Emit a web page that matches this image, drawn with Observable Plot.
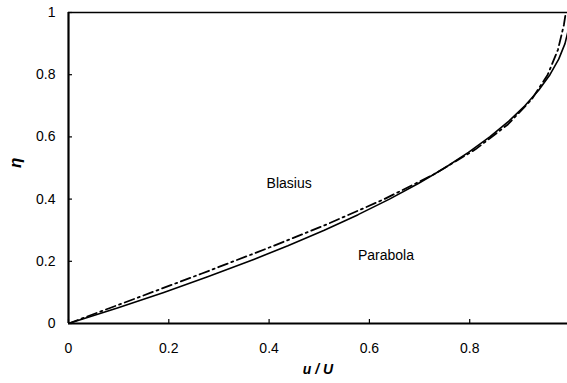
<!DOCTYPE html>
<html>
<head>
<meta charset="utf-8">
<script src="https://cdn.jsdelivr.net/npm/d3@7"></script>
<script src="https://cdn.jsdelivr.net/npm/@observablehq/plot@0.6"></script>
<style>
  html, body { margin: 0; padding: 0; background: #fff; }
  svg { font-family: "Liberation Sans", Arial, sans-serif; }
</style>
</head>
<body>
<div id="chart"></div>
<script>
// Parabolic profile (solid): u/U vs eta
const parabolaU   = [0, 0.0975, 0.19, 0.2775, 0.36, 0.4375, 0.51, 0.5775, 0.64, 0.6975, 0.75, 0.7975, 0.84, 0.8775, 0.91, 0.9375, 0.96, 0.9775, 0.99, 0.9975, 1.0];
const parabolaEta = [0, 0.05, 0.10, 0.15, 0.20, 0.25, 0.30, 0.35, 0.40, 0.45, 0.50, 0.55, 0.60, 0.65, 0.70, 0.75, 0.80, 0.85, 0.90, 0.95, 1.0];

// Blasius profile (dash-dot): u/U vs eta
const blasiusU   = [0, 0.1328, 0.2647, 0.3938, 0.5168, 0.6298, 0.7290, 0.8115, 0.8761, 0.9233, 0.9555, 0.9759, 0.9878, 0.9916];
const blasiusEta = [0, 0.08, 0.16, 0.24, 0.32, 0.40, 0.48, 0.56, 0.64, 0.72, 0.80, 0.88, 0.96, 1.0];

const xTicks = [0, 0.2, 0.4, 0.6, 0.8];
const yTicks = [0, 0.2, 0.4, 0.6, 0.8, 1];
const yTickLabels = ["0", "0.2", "0.4", "0.6", "0.8", "1"];

const curveLabels = ["Blasius", "Parabola"];
const curveLabelX = [0.44, 0.633];
const curveLabelY = [0.45, 0.218];

const parabola = parabolaU.map((u, i) => ({u, eta: parabolaEta[i]}));
const blasius = blasiusU.map((u, i) => ({u, eta: blasiusEta[i]}));
const labels = curveLabels.map((t, i) => ({t, x: curveLabelX[i], y: curveLabelY[i]}));

const chart = Plot.plot({
  width: 567,
  height: 383,
  marginLeft: 68,
  marginRight: 0,
  marginTop: 12,
  marginBottom: 60,
  style: {fontFamily: '"Liberation Sans", Arial, sans-serif', fontSize: "14px", background: "#fff", color: "#000"},
  x: {domain: [0, 0.995], axis: null},
  y: {domain: [0, 1], axis: null},
  marks: [
    // inward tick marks
    Plot.ruleX(xTicks, {x: d => d, y1: 0, y2: 0, insetBottom: 4, stroke: "#000", strokeWidth: 1.2}),
    Plot.ruleY(yTicks, {y: d => d, x1: 0, x2: 0, insetRight: -4, stroke: "#000", strokeWidth: 1.2}),
    Plot.axisX({ticks: xTicks, tickSize: 0, tickPadding: 20, tickFormat: d => String(d), fontSize: 14, fill: "#000"}),
    Plot.axisY({ticks: yTicks, tickSize: 0, tickPadding: 13, tickFormat: (d, i) => yTickLabels[i], fontSize: 14, fill: "#000"}),
    Plot.line(parabola, {x: "u", y: "eta", stroke: "#000", strokeWidth: 1.6, clip: true}),
    Plot.line(blasius, {x: "u", y: "eta", stroke: "#000", strokeWidth: 1.8, strokeDasharray: "10,4,2,4", clip: true}),
    Plot.ruleY([1], {stroke: "#000", strokeWidth: 1.5}),
    Plot.ruleY([0], {stroke: "#000", strokeWidth: 2.2}),
    Plot.ruleX([0], {stroke: "#000", strokeWidth: 2.2}),
    Plot.text(labels, {x: "x", y: "y", text: "t", fontSize: 14, fill: "#000"}),
    Plot.text(["η"], {frameAnchor: "left", dx: -53, fontSize: 17, fontWeight: "bold", fontStyle: "italic", rotate: -90, fill: "#000"}),
    Plot.text(["u / U"], {frameAnchor: "bottom", dy: 50, fontSize: 14, fontWeight: "bold", fontStyle: "italic", fill: "#000"})
  ]
});
document.getElementById("chart").appendChild(chart);
</script>
</body>
</html>
